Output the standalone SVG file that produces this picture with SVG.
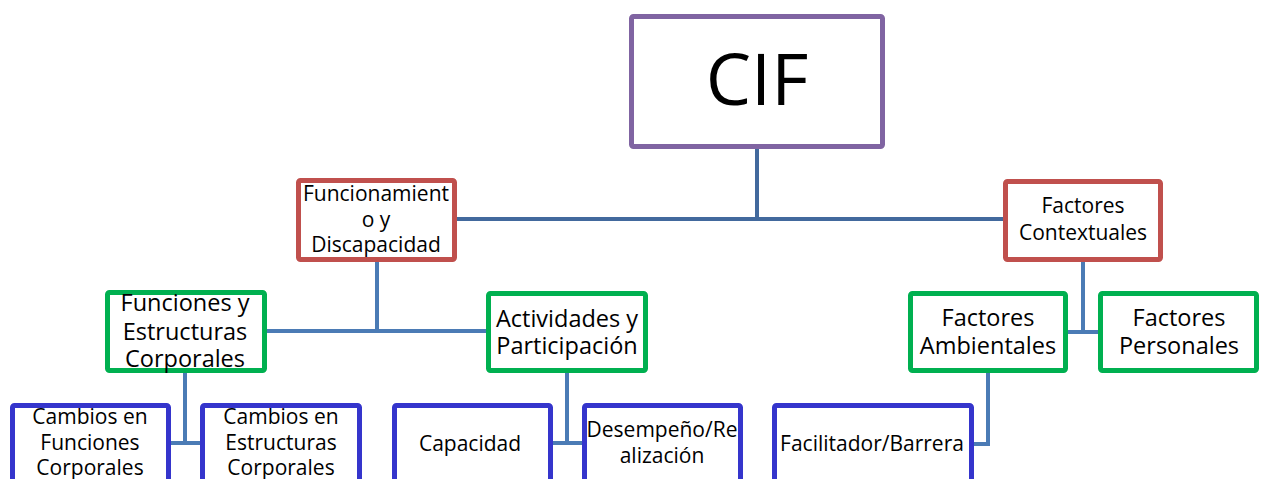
<svg xmlns="http://www.w3.org/2000/svg" width="1265" height="479" viewBox="0 0 1265 479">
<style>
.box{fill:#fff;stroke-width:5;}
.p{stroke:#8064A2;}
.r{stroke:#C0504D;}
.g{stroke:#00B050;}
.b{stroke:#3535CC;}
.c1{fill:none;stroke:#42699D;stroke-width:4;}
.c2{fill:none;stroke:#4B7BB5;stroke-width:4;}
text{font-family:"Open Sans",Lato,sans-serif;fill:#000;text-anchor:middle;}
.t20{font-size:21px;}
.t22{font-size:23.5px;}
</style>
<rect width="1265" height="479" fill="#fff"/>
<g id="connectors">
<path class="c1" d="M757 148V219M457 219H1003"/>
<path class="c2" d="M377 261V331M266 331H487"/>
<path class="c2" d="M185 373V443M170 443H201"/>
<path class="c2" d="M567 372V443M552 443H583"/>
<path class="c2" d="M1083 261V332M1067 332H1099"/>
<path class="c2" d="M988 372V444H972"/>
</g>
<g id="cif">
<rect class="box p" x="631.5" y="16.5" width="251" height="130" rx="2"/>
<text x="757" y="105" style="font-size:72px">CIF</text>
</g>
<g id="funcionamiento">
<rect class="box r" x="298.5" y="180.5" width="156" height="79" rx="2"/>
<text class="t20" x="376" y="201">Funcionamient</text>
<text class="t20" x="376" y="227">o y</text>
<text class="t20" x="376" y="252">Discapacidad</text>
</g>
<g id="contextuales">
<rect class="box r" x="1005.5" y="181.5" width="155" height="78" rx="2"/>
<text class="t20" x="1083" y="213">Factores</text>
<text class="t20" x="1083" y="240">Contextuales</text>
</g>
<g id="funciones">
<rect class="box g" x="107.5" y="292.5" width="157" height="78" rx="2"/>
<text class="t22" x="185" y="311">Funciones y</text>
<text class="t22" x="185" y="340">Estructuras</text>
<text class="t22" x="185" y="367">Corporales</text>
</g>
<g id="actividades">
<rect class="box g" x="488.5" y="293.5" width="157" height="77" rx="2"/>
<text class="t22" x="567" y="327">Actividades y</text>
<text class="t22" x="567" y="354">Participación</text>
</g>
<g id="ambientales">
<rect class="box g" x="910.5" y="293.5" width="155" height="77" rx="2"/>
<text class="t22" x="988" y="326">Factores</text>
<text class="t22" x="988" y="354">Ambientales</text>
</g>
<g id="personales">
<rect class="box g" x="1100.5" y="293.5" width="156" height="77" rx="2"/>
<text class="t22" x="1179" y="326">Factores</text>
<text class="t22" x="1179" y="354">Personales</text>
</g>
<g id="cambios-funciones">
<rect class="box b" x="12.5" y="405.5" width="156" height="90" rx="2"/>
<text class="t20" x="90" y="424">Cambios en</text>
<text class="t20" x="90" y="450">Funciones</text>
<text class="t20" x="90" y="475">Corporales</text>
</g>
<g id="cambios-estructuras">
<rect class="box b" x="202.5" y="405.5" width="157" height="90" rx="2"/>
<text class="t20" x="281" y="424">Cambios en</text>
<text class="t20" x="281" y="450">Estructuras</text>
<text class="t20" x="281" y="475">Corporales</text>
</g>
<g id="capacidad">
<rect class="box b" x="394.5" y="405.5" width="156" height="90" rx="2"/>
<text class="t20" x="470" y="451">Capacidad</text>
</g>
<g id="desempeno">
<rect class="box b" x="584.5" y="405.5" width="156" height="90" rx="2"/>
<text class="t20" x="662" y="437">Desempeño/Re</text>
<text class="t20" x="662" y="463">alización</text>
</g>
<g id="facilitador">
<rect class="box b" x="774.5" y="405.5" width="197" height="90" rx="2"/>
<text class="t20" x="872" y="451">Facilitador/Barrera</text>
</g>
</svg>
